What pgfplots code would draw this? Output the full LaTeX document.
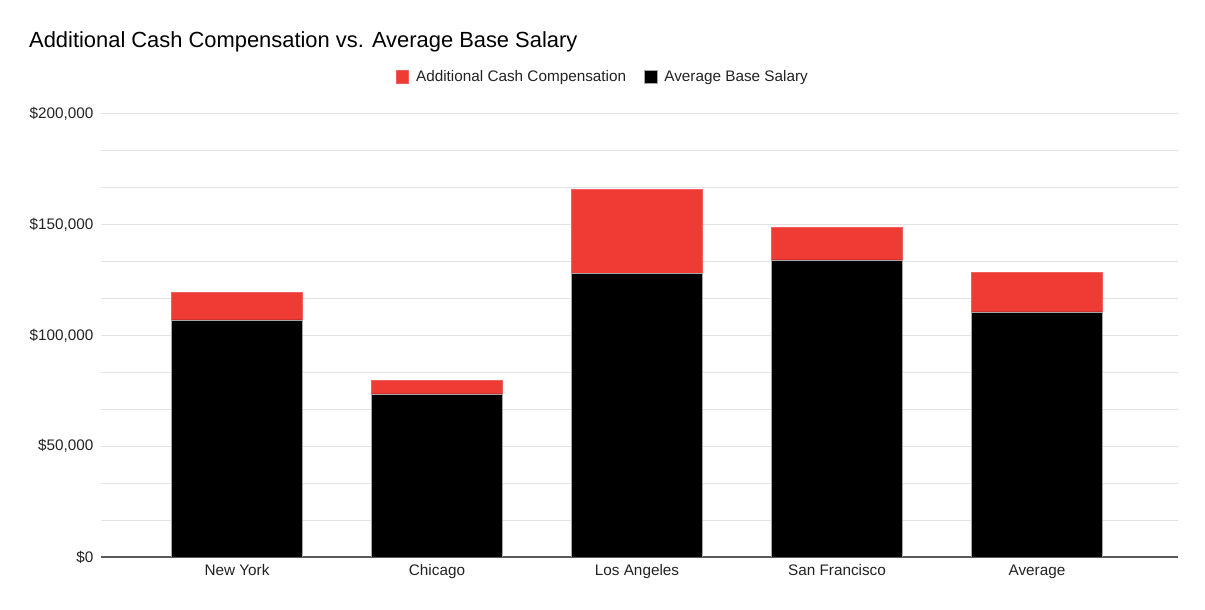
\documentclass[border=0pt]{standalone}
\usepackage{pgfplots}
\pgfplotsset{compat=1.18}
\usepackage{fontspec}
\setmainfont{Liberation Sans}
\definecolor{barred}{RGB}{240,58,52}
\definecolor{gridgray}{RGB}{226,226,226}
\definecolor{axisgray}{RGB}{90,90,90}
\definecolor{txt}{RGB}{34,34,34}
\begin{document}
\begin{tikzpicture}[x=1pt,y=1pt]
\path[use as bounding box] (0,0) rectangle (1205,610);
\node[anchor=west,font=\fontsize{21.9}{24}\selectfont,text=black,inner sep=0] at (29,568) {Additional Cash Compensation vs. Average Base Salary};
\begin{axis}[
  at={(101pt,53pt)}, anchor=south west,
  width=1077pt, height=443pt, scale only axis,
  ybar stacked, bar width=131pt,
  xmin=-0.68, xmax=4.705,
  ymin=0, ymax=200000,
  xtick={0,1,2,3,4},
  xticklabels={New York,Chicago,Los Angeles,San Francisco,Average},
  ytick={0,50000,100000,150000,200000},
  minor y tick num=2,
  ymajorgrids, yminorgrids,
  major grid style={gridgray, line width=1pt},
  minor grid style={gridgray, line width=1pt},
  axis x line*=bottom, axis y line*=left,
  y axis line style={draw=none},
  x axis line style={axisgray, line width=1.2pt, -},
  major tick length=0pt, minor tick length=0pt,
  scaled y ticks=false,
  yticklabel={\$\pgfmathprintnumber[fixed,precision=0,1000 sep={,}]{\tick}},
  tick label style={font=\fontsize{15.3}{17}\selectfont, text=txt},
  yticklabel style={xshift=-4pt},
  xticklabel style={text height=11pt, text depth=3pt, yshift=-4pt},
  /pgf/number format/assume math mode=true,
  reverse legend,
  legend columns=2,
  legend style={at={(axis description cs:0.466,1.0835)}, anchor=center, draw=none, fill=none,
    font=\fontsize{15.3}{17}\selectfont, text=txt,
    /tikz/every even column/.append style={column sep=16pt}},
  legend image code/.code={\fill[#1] (0pt,-6pt) rectangle (12.5pt,6.5pt); \path[draw=none,fill=none] (0pt,0pt) -- (18pt,0pt);},
]
\addplot[fill=black, draw=gray!70, line width=0.4pt] coordinates {(0,107000) (1,73700) (2,128000) (3,134100) (4,110700)};
\addplot[fill=barred, draw=barred!80, line width=0.4pt] coordinates {(0,12500) (1,5900) (2,38000) (3,14800) (4,17800)};
\legend{Average Base Salary, Additional Cash Compensation}
\end{axis}
\end{tikzpicture}
\end{document}
